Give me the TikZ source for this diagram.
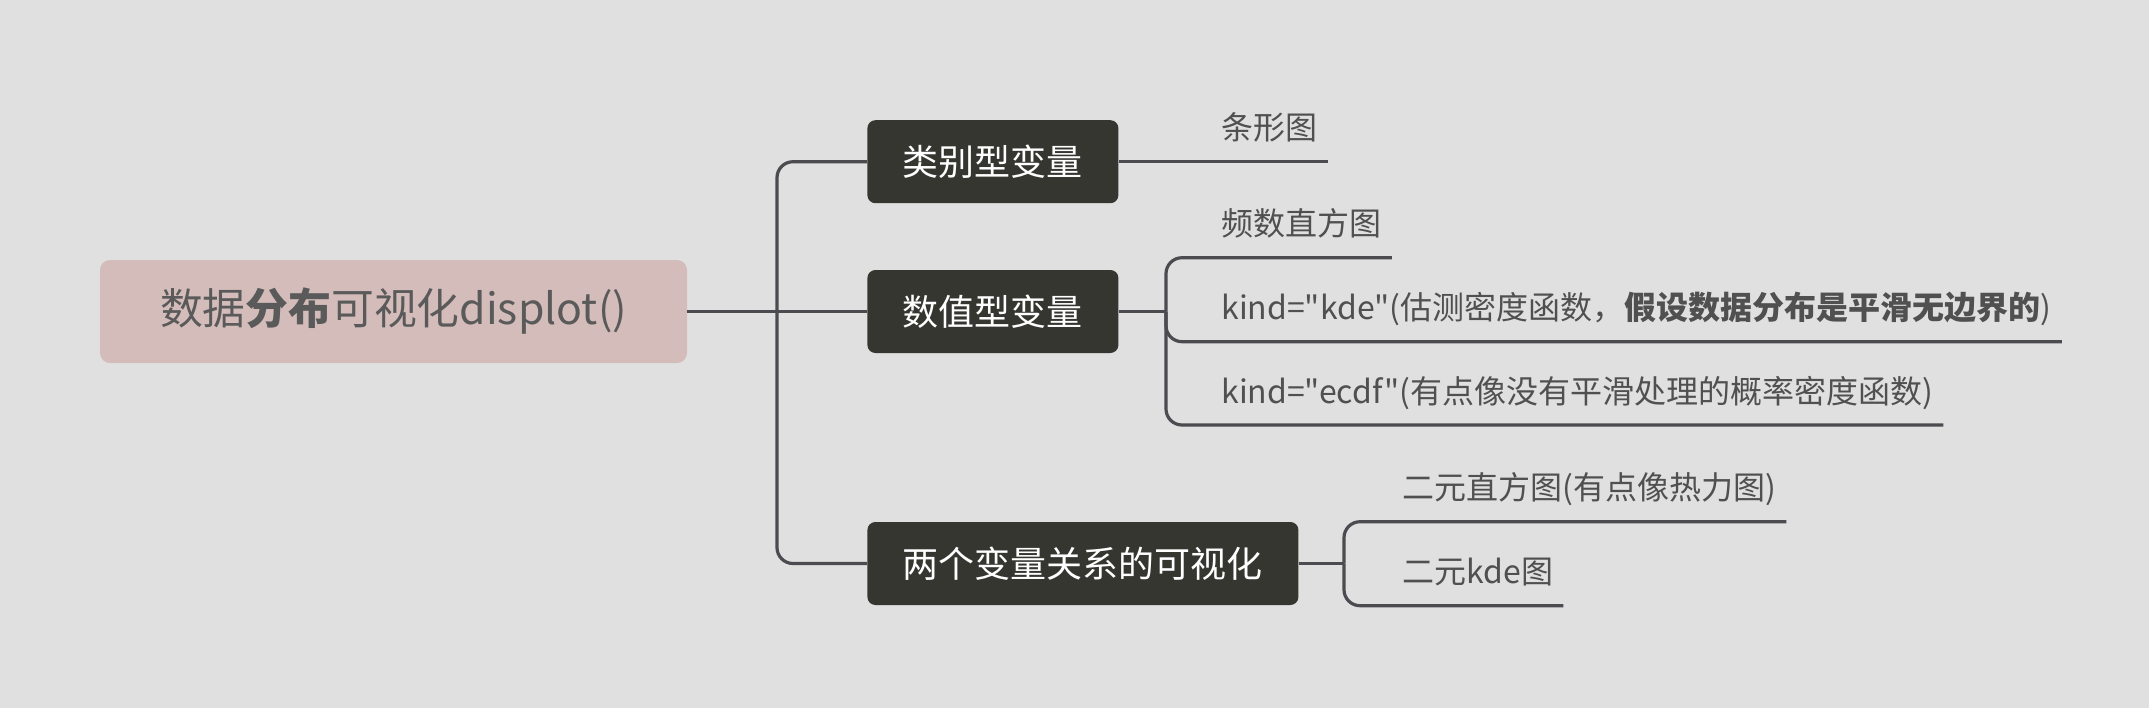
\documentclass[tikz,border=0pt]{standalone}
\usepackage{fontspec}
\setmainfont{Noto Sans CJK SC}[Ligatures=TeXOff]
\definecolor{bgcol}{HTML}{E0E0E0}
\definecolor{rootcol}{HTML}{D3BCBA}
\definecolor{roottext}{HTML}{5A5A5A}
\definecolor{boxcol}{HTML}{363631}
\definecolor{linecol}{HTML}{4B4B50}
\definecolor{leaftext}{HTML}{505050}
\tikzset{
  rootbox/.style={fill=rootcol, text=roottext, rounded corners=5pt,
    minimum width=293.5pt, minimum height=51.5pt, font=\fontsize{21.4pt}{26pt}\selectfont},
  topicbox/.style={fill=boxcol, text=white, rounded corners=4pt, anchor=west,
    minimum height=41.5pt, inner xsep=17.75pt, font=\fontsize{18pt}{21pt}\selectfont},
  leaf/.style={anchor=south west, inner xsep=5pt, inner ysep=0pt, text height=12pt,
    text depth=10.8pt, text=leaftext, font=\fontsize{16pt}{19pt}\selectfont},
  branch/.style={draw=linecol, line width=1.6pt, rounded corners=8pt},
}
\begin{document}
\begin{tikzpicture}[x=0.5pt, y=-0.5pt]
  \fill[bgcol] (0,0) rectangle (2149,708);
  \node[rootbox] (root) at (393.5,311.5) {数据\textbf{分布}可视化displot()};
  \node[topicbox] (cat) at (867,161.7) {类别型变量};
  \node[topicbox] (num) at (867,311.5) {数值型变量};
  \node[topicbox] (pair) at (867,563.5) {两个变量关系的可视化};
  \coordinate (jroot) at (777,311.5);
  \coordinate (jnum) at (1166,311.5);
  \coordinate (jpair) at (1344,563.5);
  \draw[branch] (root.east) -- (num.west);
  \draw[branch] (jroot) |- (cat.west);
  \draw[branch] (jroot) |- (pair.west);
  \draw[branch] (num.east) -- (jnum);
  \draw[branch] (pair.east) -- (jpair);
  % leaves
  \node[leaf] (bar) at (1211,161.7) {条形图};
  \draw[branch] (cat.east) -- (bar.south east);
  \foreach \n/\y/\t in {
    hist/257.7/{频数直方图},
    kde/341.7/{kind="kde"(估测密度函数，\textbf{假设数据分布是平滑无边界的})},
    ecdf/425/{kind="ecdf"(有点像没有平滑处理的概率密度函数)}} {
    \node[leaf] (\n) at (1211,\y) {\t};
    \draw[branch] (jnum) |- (\n.south east);
  }
  \foreach \n/\y/\t in {
    heat/521.7/{二元直方图(有点像热力图)},
    kde2/605.7/{二元kde图}} {
    \node[leaf] (\n) at (1392,\y) {\t};
    \draw[branch] (jpair) |- (\n.south east);
  }
\end{tikzpicture}
\end{document}
